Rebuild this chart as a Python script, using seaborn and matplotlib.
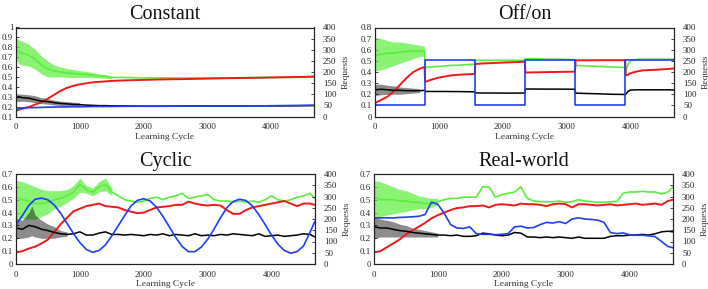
import numpy as np
import matplotlib
matplotlib.use("Agg")
import matplotlib.pyplot as plt
import seaborn as sns
from matplotlib.ticker import FuncFormatter

# ---------------- data ----------------
titles = ["Constant", "Off/on", "Cyclic", "Real-world"]
x_label = "Learning Cycle"
right_label = "Requests"
x_ticks = [0, 1000, 2000, 3000, 4000]
right_ticks = [0, 50, 100, 150, 200, 250, 300, 350, 400]
left_ticks_constant = [0.1, 0.2, 0.3, 0.4, 0.5, 0.6, 0.7, 0.8, 0.9, 1.0]
left_ticks_offon = [0, 0.1, 0.2, 0.3, 0.4, 0.5, 0.6, 0.7, 0.8]
left_ticks_cyclic = [0, 0.1, 0.2, 0.3, 0.4, 0.5, 0.6, 0.7]
left_ticks_real = [0, 0.1, 0.2, 0.3, 0.4, 0.5, 0.6, 0.7]

# --- Constant ---
cyc_const = [0, 50, 100, 200, 300, 400, 500, 600, 700, 800, 900, 1000, 1100, 1200,
             1300, 1400, 1500, 1700, 2000, 2300, 2600, 3000, 3300, 3600, 3900, 4200, 4500, 4680]
green_const = [0.78, 0.75, 0.74, 0.72, 0.68, 0.62, 0.58, 0.56, 0.55, 0.54, 0.535, 0.53, 0.525, 0.52,
               0.51, 0.505, 0.495, 0.495, 0.49, 0.49, 0.49, 0.49, 0.49, 0.492, 0.495, 0.495, 0.497, 0.5]
red_const = [0.16, 0.17, 0.18, 0.195, 0.22, 0.245, 0.28, 0.32, 0.36, 0.39, 0.41, 0.425, 0.435, 0.445,
             0.45, 0.455, 0.46, 0.465, 0.47, 0.475, 0.478, 0.483, 0.487, 0.49, 0.493, 0.497, 0.5, 0.505]
black_const = [0.29, 0.3, 0.29, 0.285, 0.27, 0.255, 0.25, 0.24, 0.232, 0.228, 0.222, 0.22, 0.215, 0.213,
               0.21, 0.21, 0.208, 0.207, 0.205, 0.205, 0.205, 0.206, 0.207, 0.207, 0.208, 0.208, 0.209, 0.21]
blue_const = [38, 38, 39, 40, 40, 41, 42, 42, 43, 43, 44, 44, 44, 45,
              45, 45, 45, 46, 46, 46, 47, 47, 47, 48, 48, 49, 50, 51]
green_env_const_x = [0, 50, 100, 200, 300, 400, 500, 600, 700, 800, 900, 1000, 1100, 1200, 1300, 1400, 1500]
green_env_const_lo = [0.68, 0.63, 0.62, 0.61, 0.58, 0.53, 0.50, 0.50, 0.50, 0.495, 0.495, 0.495, 0.495, 0.495, 0.49, 0.487, 0.48]
green_env_const_hi = [0.90, 0.87, 0.86, 0.83, 0.78, 0.71, 0.66, 0.62, 0.60, 0.585, 0.575, 0.565, 0.555, 0.545, 0.53, 0.523, 0.51]
black_env_const_x = [0, 100, 200, 300, 400, 500, 600, 700, 800, 900, 1000]
black_env_const_lo = [0.25, 0.255, 0.25, 0.24, 0.23, 0.225, 0.215, 0.21, 0.205, 0.2, 0.2]
black_env_const_hi = [0.33, 0.325, 0.32, 0.31, 0.29, 0.28, 0.265, 0.255, 0.25, 0.245, 0.24]

# --- Off/on ---
cyc_off = [0, 100, 200, 300, 400, 500, 600, 700, 775, 785, 850, 1000, 1100, 1200, 1300, 1400,
           1560, 1570, 1700, 1900, 2100, 2345, 2355, 2500, 2700, 2900, 3130, 3140, 3300, 3500,
           3700, 3915, 3925, 3960, 4000, 4100, 4200, 4400, 4600, 4680]
green_off = [0.55, 0.56, 0.57, 0.57, 0.58, 0.585, 0.59, 0.59, 0.585,
             0.44, 0.445, 0.45, 0.455, 0.46, 0.46, 0.465, 0.47,
             0.505, 0.505, 0.505, 0.505, 0.505,
             0.52, 0.52, 0.515, 0.515, 0.51,
             0.46, 0.455, 0.45, 0.445, 0.44,
             0.41, 0.47, 0.5, 0.515, 0.515, 0.515, 0.515, 0.515]
red_off = [0.12, 0.15, 0.18, 0.23, 0.29, 0.35, 0.4, 0.43, 0.445,
           0.31, 0.325, 0.35, 0.36, 0.37, 0.375, 0.378, 0.382,
           0.472, 0.477, 0.482, 0.487, 0.492,
           0.395, 0.397, 0.399, 0.401, 0.403,
           0.505, 0.505, 0.506, 0.506, 0.506,
           0.37, 0.375, 0.39, 0.405, 0.415, 0.42, 0.428, 0.432]
black_off = [0.24, 0.245, 0.24, 0.235, 0.235, 0.232, 0.232, 0.232, 0.235,
             0.225, 0.225, 0.225, 0.225, 0.224, 0.224, 0.223, 0.222,
             0.212, 0.211, 0.211, 0.21, 0.211,
             0.247, 0.247, 0.246, 0.246, 0.245,
             0.21, 0.207, 0.204, 0.2, 0.198,
             0.2, 0.225, 0.238, 0.24, 0.24, 0.24, 0.24, 0.238]
blue_off_x = [0, 780, 1565, 2350, 3135, 3920, 4680]
blue_off = [50, 253, 50, 253, 50, 253, 253]
green_env_off_x = [0, 100, 200, 300, 400, 500, 600, 700, 775]
green_env_off_lo = [0.41, 0.42, 0.44, 0.46, 0.48, 0.5, 0.52, 0.54, 0.545]
green_env_off_hi = [0.71, 0.7, 0.68, 0.67, 0.67, 0.66, 0.65, 0.64, 0.63]
black_env_off_x = [0, 100, 200, 300, 400, 500, 600, 700]
black_env_off_lo = [0.19, 0.195, 0.2, 0.2, 0.2, 0.205, 0.21, 0.215]
black_env_off_hi = [0.29, 0.29, 0.28, 0.275, 0.265, 0.26, 0.255, 0.25]

# --- Cyclic ---
cyc_cyc = [0, 100, 200, 300, 400, 500, 600, 700, 800, 900, 1000, 1100, 1200, 1300, 1400, 1500,
           1600, 1700, 1800, 1900, 2000, 2100, 2200, 2300, 2400, 2500, 2600, 2700, 2800, 2900,
           3000, 3100, 3200, 3300, 3400, 3500, 3600, 3700, 3800, 3900, 4000, 4100, 4200, 4300,
           4400, 4500, 4600, 4680]
green_cyc = [0.52, 0.5, 0.49, 0.47, 0.47, 0.48, 0.5, 0.51, 0.53, 0.56,
             0.62, 0.58, 0.56, 0.6, 0.62, 0.56, 0.53, 0.5, 0.49, 0.48,
             0.49, 0.51, 0.52, 0.5, 0.52, 0.53, 0.55, 0.51, 0.52, 0.53,
             0.54, 0.5, 0.49, 0.49, 0.48, 0.49, 0.48, 0.49, 0.48, 0.5,
             0.53, 0.5, 0.49, 0.5, 0.52, 0.53, 0.55, 0.51]
red_cyc = [0.09, 0.1, 0.12, 0.135, 0.16, 0.19, 0.25, 0.31, 0.36, 0.41,
           0.43, 0.45, 0.46, 0.47, 0.45, 0.445, 0.44, 0.42, 0.407, 0.395,
           0.4, 0.42, 0.44, 0.445, 0.45, 0.46, 0.46, 0.485, 0.47, 0.46,
           0.455, 0.46, 0.455, 0.42, 0.39, 0.39, 0.42, 0.44, 0.45, 0.46,
           0.47, 0.48, 0.49, 0.47, 0.45, 0.47, 0.47, 0.46]
black_cyc = [0.28, 0.27, 0.3, 0.29, 0.27, 0.26, 0.245, 0.235, 0.23, 0.235,
             0.25, 0.225, 0.225, 0.24, 0.25, 0.23, 0.23, 0.225, 0.23, 0.225,
             0.22, 0.23, 0.225, 0.235, 0.22, 0.23, 0.225, 0.22, 0.235, 0.22,
             0.225, 0.22, 0.23, 0.225, 0.235, 0.23, 0.225, 0.22, 0.235, 0.215,
             0.22, 0.225, 0.215, 0.22, 0.225, 0.235, 0.23, 0.21]
blue_cyc = [175, 215, 260, 288, 293, 285, 262, 225, 180, 135,
            95, 65, 52, 60, 85, 125, 170, 215, 258, 283,
            290, 280, 252, 212, 165, 118, 78, 55, 55, 75,
            110, 155, 205, 250, 278, 288, 282, 258, 220, 175,
            128, 88, 60, 48, 55, 80, 140, 190]
green_env_cyc_x = [0, 100, 200, 300, 400, 500, 600, 700, 800, 900, 1000, 1100, 1200, 1300, 1400, 1500]
green_env_cyc_lo = [0.36, 0.35, 0.35, 0.35, 0.37, 0.39, 0.43, 0.45, 0.48, 0.51, 0.56, 0.55, 0.53, 0.56, 0.57, 0.53]
green_env_cyc_hi = [0.65, 0.64, 0.62, 0.6, 0.58, 0.57, 0.57, 0.57, 0.58, 0.61, 0.67, 0.61, 0.59, 0.64, 0.67, 0.59]
black_env_cyc_x = [0, 100, 200, 250, 300, 400, 500, 600, 700, 800]
black_env_cyc_lo = [0.2, 0.2, 0.21, 0.22, 0.21, 0.2, 0.2, 0.2, 0.21, 0.215]
black_env_cyc_hi = [0.36, 0.34, 0.4, 0.45, 0.38, 0.34, 0.31, 0.29, 0.26, 0.25]

# --- Real-world ---
cyc_real = list(cyc_cyc)
green_real = [0.52, 0.5, 0.5, 0.5, 0.49, 0.49, 0.48, 0.48, 0.47, 0.47,
              0.485, 0.5, 0.51, 0.51, 0.52, 0.52, 0.52, 0.6, 0.6, 0.52,
              0.54, 0.55, 0.56, 0.6, 0.51, 0.49, 0.485, 0.485, 0.485, 0.49,
              0.48, 0.485, 0.5, 0.49, 0.485, 0.48, 0.48, 0.485, 0.485, 0.55,
              0.56, 0.56, 0.565, 0.56, 0.56, 0.545, 0.56, 0.6]
red_real = [0.09, 0.1, 0.13, 0.16, 0.19, 0.23, 0.26, 0.29, 0.32, 0.355,
            0.38, 0.4, 0.42, 0.435, 0.44, 0.45, 0.45, 0.455, 0.44, 0.46,
            0.465, 0.46, 0.455, 0.47, 0.465, 0.465, 0.46, 0.45, 0.465, 0.47,
            0.465, 0.44, 0.465, 0.465, 0.46, 0.455, 0.46, 0.465, 0.455, 0.46,
            0.465, 0.47, 0.46, 0.465, 0.47, 0.46, 0.49, 0.5]
black_real = [0.29, 0.28, 0.28, 0.27, 0.26, 0.255, 0.245, 0.24, 0.235, 0.23,
              0.225, 0.225, 0.22, 0.225, 0.215, 0.215, 0.22, 0.24, 0.235, 0.225,
              0.22, 0.225, 0.245, 0.24, 0.21, 0.21, 0.205, 0.21, 0.205, 0.21,
              0.205, 0.2, 0.21, 0.2, 0.2, 0.2, 0.2, 0.215, 0.22, 0.22,
              0.225, 0.225, 0.23, 0.225, 0.235, 0.25, 0.255, 0.25]
blue_real = [205, 205, 205, 205, 207, 208, 210, 212, 220, 275,
             265, 225, 175, 160, 158, 165, 135, 132, 132, 130,
             132, 135, 165, 168, 160, 162, 175, 185, 182, 188,
             180, 200, 205, 200, 198, 195, 185, 140, 135, 138,
             130, 128, 128, 125, 122, 100, 78, 72]
green_env_real_x = [0, 100, 200, 300, 400, 500, 600, 700, 800, 900, 1000]
green_env_real_lo = [0.36, 0.37, 0.38, 0.39, 0.4, 0.41, 0.42, 0.43, 0.43, 0.44, 0.46]
green_env_real_hi = [0.65, 0.64, 0.62, 0.6, 0.58, 0.57, 0.55, 0.53, 0.52, 0.51, 0.51]
black_env_real_x = [0, 100, 200, 300, 400, 500, 600, 700, 800, 900, 1000]
black_env_real_lo = [0.2, 0.21, 0.21, 0.21, 0.21, 0.21, 0.21, 0.21, 0.21, 0.21, 0.21]
black_env_real_hi = [0.37, 0.35, 0.34, 0.33, 0.31, 0.3, 0.28, 0.27, 0.26, 0.25, 0.24]

# ---------------- style ----------------
sns.set_theme(style="white")
plt.rcParams["font.family"] = ["Liberation Serif", "DejaVu Serif"]

C_GREEN = "#58ee3a"
C_RED = "#f01818"
C_BLUE = "#1f3ff2"
C_BLACK = "#000000"

W, H = 708, 289
fig = plt.figure(figsize=(W / 100, H / 100), dpi=100)

panels = [
    dict(title=titles[0], rect=[16, 27.5, 298, 89], cyc=cyc_const, g=green_const, r=red_const,
         k=black_const, bx=cyc_const, b=blue_const, steps=False, ylim=(0.1, 1.0), yt=left_ticks_constant,
         genv=(green_env_const_x, green_env_const_lo, green_env_const_hi),
         kenv=(black_env_const_x, black_env_const_lo, black_env_const_hi)),
    dict(title=titles[1], rect=[375, 27.5, 299, 89], cyc=cyc_off, g=green_off, r=red_off,
         k=black_off, bx=blue_off_x, b=blue_off, steps=True, ylim=(0, 0.8), yt=left_ticks_offon,
         genv=(green_env_off_x, green_env_off_lo, green_env_off_hi),
         kenv=(black_env_off_x, black_env_off_lo, black_env_off_hi)),
    dict(title=titles[2], rect=[16, 174, 299, 90], cyc=cyc_cyc, g=green_cyc, r=red_cyc,
         k=black_cyc, bx=cyc_cyc, b=blue_cyc, steps=False, ylim=(0, 0.7), yt=left_ticks_cyclic,
         genv=(green_env_cyc_x, green_env_cyc_lo, green_env_cyc_hi),
         kenv=(black_env_cyc_x, black_env_cyc_lo, black_env_cyc_hi)),
    dict(title=titles[3], rect=[374, 174, 299, 90], cyc=cyc_real, g=green_real, r=red_real,
         k=black_real, bx=cyc_real, b=blue_real, steps=False, ylim=(0, 0.7), yt=left_ticks_real,
         genv=(green_env_real_x, green_env_real_lo, green_env_real_hi),
         kenv=(black_env_real_x, black_env_real_lo, black_env_real_hi)),
]

TICK_FS = 6.3
fmt = FuncFormatter(lambda v, p: f"{v:g}")

for p in panels:
    x0, ytop, w, h = p["rect"]
    ax = fig.add_axes([x0 / W, 1 - (ytop + h) / H, w / W, h / H])
    ax.set_facecolor("white")

    # noisy envelopes
    ex, elo, ehi = p["genv"]
    ax.fill_between(ex, elo, ehi, color=C_GREEN, alpha=0.7, lw=0)
    ex, elo, ehi = p["kenv"]
    ax.fill_between(ex, elo, ehi, color=C_BLACK, alpha=0.45, lw=0)

    sns.lineplot(x=p["cyc"], y=p["g"], ax=ax, color=C_GREEN, lw=1.2, sort=False, estimator=None)
    sns.lineplot(x=p["cyc"], y=p["r"], ax=ax, color=C_RED, lw=1.4, sort=False, estimator=None)
    sns.lineplot(x=p["cyc"], y=p["k"], ax=ax, color=C_BLACK, lw=1.1, sort=False, estimator=None)

    ax.set_xlim(0, 4680)
    ax.set_ylim(*p["ylim"])
    ax.set_xticks(x_ticks)
    ax.set_yticks(p["yt"])
    ax.yaxis.set_major_formatter(fmt)
    ax.tick_params(axis="both", direction="in", length=2.5, width=0.6, labelsize=TICK_FS,
                   colors="#222222", pad=2)
    ax.tick_params(axis="x", pad=5)
    ax.set_xlabel(x_label, fontsize=6.8, labelpad=1.0, color="#333333")
    ax.set_ylabel("")
    ax.set_title(p["title"], fontsize=14.5, pad=6, color="#111111")

    ax2 = ax.twinx()
    if p["steps"]:
        sns.lineplot(x=p["bx"], y=p["b"], ax=ax2, color=C_BLUE, lw=1.2, sort=False,
                     estimator=None, drawstyle="steps-post")
    else:
        sns.lineplot(x=p["bx"], y=p["b"], ax=ax2, color=C_BLUE, lw=1.2, sort=False, estimator=None)
    ax2.set_ylim(0, 400)
    ax2.set_yticks(right_ticks)
    ax2.tick_params(axis="y", direction="in", length=2.5, width=0.6, labelsize=TICK_FS,
                    colors="#222222", pad=6.5)
    ax2.set_ylabel(right_label, fontsize=6.8, labelpad=3.5, color="#333333")
    ax2.set_xlim(0, 4680)

    for a in (ax, ax2):
        for s in a.spines.values():
            s.set_visible(True)
            s.set_color("#222222")
            s.set_linewidth(0.8)

fig.savefig("out.png", dpi=100, facecolor="white")
